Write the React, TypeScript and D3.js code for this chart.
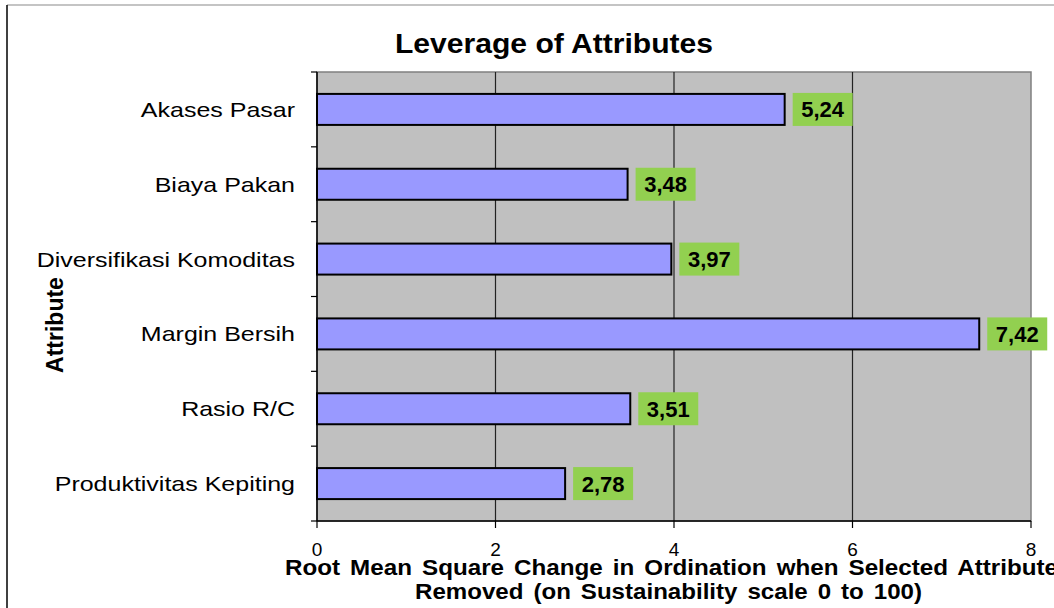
import React from "react";
import * as d3 from "d3";

const categories = ["Akases Pasar", "Biaya Pakan", "Diversifikasi Komoditas", "Margin Bersih", "Rasio R/C", "Produktivitas Kepiting"];
const values = [5.24, 3.48, 3.97, 7.42, 3.51, 2.78];
const labels = ["5,24", "3,48", "3,97", "7,42", "3,51", "2,78"];
const xTicks = [0, 2, 4, 6, 8];

export default function App() {
  const W = 1054, H = 608;
  const L = 317, R = 1031, T = 72, B = 521;
  const x = d3.scaleLinear().domain([0, 8]).range([L, R]);
  const y = d3.scaleBand().domain(categories).range([T, B]);
  const band = y.bandwidth();
  const barH = 31;
  const font = "'Liberation Sans', Arial, sans-serif";
  return (
    <svg width={W} height={H} style={{ position: "absolute", left: 0, top: 0, background: "#fff" }} fontFamily={font}>
      <line x1={7} y1={5} x2={W} y2={5} stroke="#b0b0b0" strokeWidth={1.5} />
      <line x1={7} y1={5} x2={7} y2={H} stroke="#000" strokeWidth={1.5} />
      <text x={395} y={52.5} fontSize={28} fontWeight="bold" textLength={318} lengthAdjust="spacingAndGlyphs">Leverage of Attributes</text>
      <rect x={L} y={T} width={R - L} height={B - T} fill="#c0c0c0" stroke="#808080" strokeWidth={1.5} />
      {xTicks.slice(1, -1).map((t) => (
        <line key={t} x1={x(t)} x2={x(t)} y1={T} y2={B} stroke="#222" strokeWidth={1.2} />
      ))}
      <line x1={L} x2={L} y1={T} y2={B} stroke="#000" strokeWidth={1.5} />
      <line x1={L} x2={R} y1={B} y2={B} stroke="#000" strokeWidth={1.5} />
      {d3.range(categories.length + 1).map((i) => (
        <line key={i} x1={L - 6} x2={L} y1={T + i * band} y2={T + i * band} stroke="#000" strokeWidth={1.2} />
      ))}
      {xTicks.map((t) => (
        <g key={t}>
          <line x1={x(t)} x2={x(t)} y1={B} y2={B + 7} stroke="#000" strokeWidth={1.2} />
          <text x={x(t)} y={556} textAnchor="middle" fontSize={19}>{t}</text>
        </g>
      ))}
      {categories.map((c, i) => {
        const cy = y(c)! + band / 2;
        const xe = x(values[i]);
        return (
          <g key={c}>
            <text transform={`translate(295,${cy + 7.5}) scale(1.19,1)`} textAnchor="end" fontSize={21}>{c}</text>
            <rect x={L} y={cy - barH / 2} width={xe - L} height={barH} fill="#9999ff" stroke="#000" strokeWidth={2} />
            <rect x={xe + 8} y={cy - 16.5} width={60} height={33} fill="#92d050" />
            <text x={xe + 8 + 30} y={cy + 8} textAnchor="middle" fontSize={22} fontWeight="bold">{labels[i]}</text>
          </g>
        );
      })}
      <text transform={`translate(63,325) rotate(-90)`} textAnchor="middle" fontSize={23} fontWeight="bold">Attribute</text>
      <text x={285} y={575} fontSize={22} fontWeight="bold" style={{ wordSpacing: "3px" }} textLength={773} lengthAdjust="spacingAndGlyphs">Root Mean Square Change in Ordination when Selected Attribute</text>
      <text x={415} y={598.5} fontSize={22} fontWeight="bold" style={{ wordSpacing: "3px" }} textLength={507} lengthAdjust="spacingAndGlyphs">Removed (on Sustainability scale 0 to 100)</text>
    </svg>
  );
}
